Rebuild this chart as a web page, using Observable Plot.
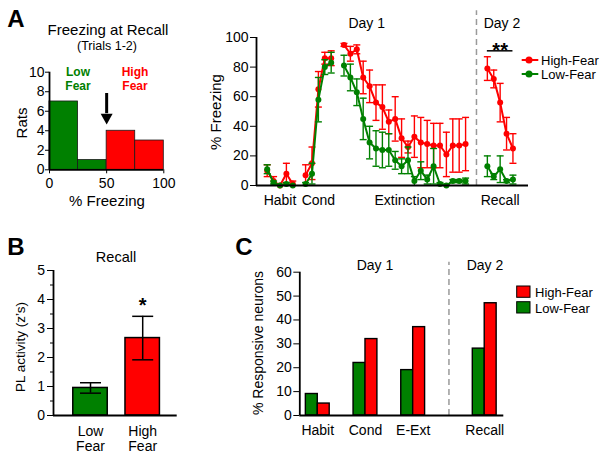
<!DOCTYPE html>
<html><head><meta charset="utf-8">
<script src="https://cdn.jsdelivr.net/npm/d3@7"></script>
<script src="https://cdn.jsdelivr.net/npm/@observablehq/plot@0.6"></script>
<style>
body{margin:0;background:#fff;}
#fig{position:relative;width:603px;height:459px;font-family:"Liberation Sans",Arial,sans-serif;color:#000;overflow:hidden;background:#fff}
#fig > svg{position:absolute}
</style></head><body><div id="fig"></div><script>
// ---------------- DATA ----------------
// Panel A: histogram of freezing at recall (trials 1-2)
const histBinEdges = [0, 25, 50, 75, 100];
const histCounts = [7, 1, 4, 3];
const fearCutoff = 50;

// Panel A: freezing time course (% freezing, mean and SEM)
const groups = ["High-Fear", "Low-Fear"];
const sessionNames = ["Habit", "Cond", "Extinction", "Recall"];
const sessionDays = [1, 1, 1, 2];
const habitHighMean = [10, 3, 0, 8, 1];
const habitHighSem = [4, 3, 0, 7, 2];
const habitLowMean = [11, 2, 0, 1, 0];
const habitLowSem = [3, 1, 0, 1, 0];
const condHighMean = [7, 15, 65, 86, 86];
const condHighSem = [7, 11, 12, 4, 5];
const condLowMean = [1, 8, 58, 80, 83];
const condLowSem = [1, 7, 15, 5, 7];
const extHighMean = [95, 89, 92, 73, 67, 56, 53, 43, 45, 32, 26, 33, 29, 28, 27, 27, 21, 27, 27, 28];
const extHighSem = [1, 5, 3, 11, 11, 12, 15, 8, 15, 13, 4, 14, 17, 16, 15, 15, 15, 18, 18, 18];
const extLowMean = [81, 73, 63, 45, 29, 25, 24, 24, 17, 13, 17, 3, 10, 4, 13, 1, 0, 3, 3, 3];
const extLowSem = [7, 9, 9, 14, 11, 12, 12, 11, 6, 5, 9, 3, 6, 3, 12, 1, 1, 1, 1, 2];
const recallHighMean = [79, 72, 56, 35, 25];
const recallHighSem = [8, 6, 13, 11, 10];
const recallLowMean = [13, 6, 11, 3, 4];
const recallLowSem = [7, 2, 9, 1, 3];
const recallSignificance = "**";

// Panel B: PL activity at recall (z-scores)
const plGroups = ["Low Fear", "High Fear"];
const plColorGroup = ["Low-Fear", "High-Fear"];
const plMean = [0.95, 2.67];
const plSem = [0.18, 0.75];
const plSignificance = ["", "*"];

// Panel C: % responsive neurons
const phaseNames = ["Habit", "Cond", "E-Ext", "Recall"];
const phaseDays = [1, 1, 1, 2];
const respHigh = [5, 32, 37, 47];
const respLow = [9, 22, 19, 28];

// ---------------- STYLE ----------------
const RED = "#ff0000", GREEN = "#008000";
const FONT = '"Liberation Sans", Arial, sans-serif';
const FS = 14;
const fig = document.getElementById("fig");
const baseStyle = {fontFamily: FONT, fontSize: "14px", color: "#000", background: "transparent", overflow: "visible"};
const colorScale = {domain: groups, range: [RED, GREEN]};
const capSymbol = {draw(ctx, size) { const r = Math.sqrt(size / Math.PI); ctx.moveTo(-r, 0); ctx.lineTo(r, 0); }};
const downTriangle = {draw(ctx, size) { const r = Math.sqrt(size / Math.PI); ctx.moveTo(-r, -0.5 * r); ctx.lineTo(r, -0.5 * r); ctx.lineTo(0, 1.3 * r); ctx.closePath(); }};
const intFmt = d3.format("d");

function place(svg, left, top) { svg.style.left = left + "px"; svg.style.top = top + "px"; fig.appendChild(svg); }
function addText(txt, cx, cy, o = {}) {
  const d = document.createElement("div");
  d.textContent = txt;
  d.style.cssText = `position:absolute;left:${cx}px;top:${cy}px;font-size:${o.size || 14}px;font-weight:${o.bold ? "bold" : "normal"};color:${o.color || "#000"};line-height:1;white-space:pre;text-align:center;`;
  d.style.transform = `translate(${o.start ? "0" : "-50%"},-50%)` + (o.rotate ? ` rotate(${o.rotate}deg)` : "");
  fig.appendChild(d);
}

// ---------------- PANEL A: histogram ----------------
const histRows = histCounts.map((c, i) => ({x1: histBinEdges[i], x2: histBinEdges[i + 1], count: c,
  group: histBinEdges[i] < fearCutoff ? "Low-Fear" : "High-Fear"}));
const hist = Plot.plot({
  width: 200, height: 215, marginLeft: 49, marginRight: 36.7, marginTop: 71.7, marginBottom: 45.7,
  style: baseStyle,
  x: {domain: [0, 100], label: null},
  y: {domain: [0, 10], label: null},
  color: colorScale,
  marks: [
    Plot.rect(histRows, {x1: "x1", x2: "x2", y1: 0, y2: "count", fill: "group", stroke: "#1a1a1a", strokeWidth: 0.8}),
    Plot.ruleX([fearCutoff], {y1: 5.75, y2: 7.82, stroke: "#000", strokeWidth: 3}),
    Plot.dot([fearCutoff], {x: d => d, y: 5.44, symbol: downTriangle, r: 6, fill: "#000", stroke: "none"}),
    Plot.axisY({ticks: [0, 2, 4, 6, 8, 10], tickSize: 4, tickPadding: 1, tickFormat: intFmt, fontSize: FS, label: null}),
    Plot.axisX({ticks: [0, 50, 100], tickSize: 4, tickPadding: 4, tickFormat: intFmt, fontSize: FS, label: null}),
    Plot.ruleX([0], {stroke: "#000", strokeWidth: 1.8}),
    Plot.ruleY([0], {stroke: "#000", strokeWidth: 1.8})
  ]
});
place(hist, 0, 0);

// ---------------- PANEL A: time course ----------------
const sessionData = {
  "High-Fear": [[habitHighMean, habitHighSem], [condHighMean, condHighSem], [extHighMean, extHighSem], [recallHighMean, recallHighSem]],
  "Low-Fear": [[habitLowMean, habitLowSem], [condLowMean, condLowSem], [extLowMean, extLowSem], [recallLowMean, recallLowSem]]
};
const gapSameDay = 2, gapNewDay = 3.4;
const sessionStart = [];
{
  let cursor = 0;
  sessionNames.forEach((s, i) => {
    if (i > 0) cursor += sessionData["High-Fear"][i - 1][0].length - 1 + (sessionDays[i] !== sessionDays[i - 1] ? gapNewDay : gapSameDay);
    sessionStart.push(cursor);
  });
}
const sessionEnd = sessionNames.map((s, i) => sessionStart[i] + sessionData["High-Fear"][i][0].length - 1);
const sessionCenter = sessionNames.map((s, i) => (sessionStart[i] + sessionEnd[i]) / 2);
const dayBoundary = (sessionEnd[2] + sessionStart[3]) / 2;
const tcRows = [];
groups.forEach(g => sessionNames.forEach((s, i) => {
  const [m, e] = sessionData[g][i];
  m.forEach((v, j) => tcRows.push({group: g, session: s, pos: sessionStart[i] + j, mean: v, sem: e[j]}));
}));
const sigY = 91;
const tcMarks = [
  Plot.ruleX([dayBoundary], {y1: 0, y2: 118, stroke: "#9a9a9a", strokeWidth: 1.5, strokeDasharray: "6,4"})
];
groups.forEach(g => {
  const rows = tcRows.filter(d => d.group === g);
  tcMarks.push(
    Plot.ruleX(rows, {x: "pos", y1: d => Math.max(0, d.mean - d.sem), y2: d => d.mean + d.sem, stroke: "group", strokeWidth: 1.4}),
    Plot.dot(rows.filter(d => d.sem > 0), {x: "pos", y: d => d.mean + d.sem, symbol: capSymbol, r: 3.5, fill: "none", stroke: "group", strokeWidth: 1.4}),
    Plot.dot(rows.filter(d => d.sem > 0 && d.mean - d.sem > 0), {x: "pos", y: d => d.mean - d.sem, symbol: capSymbol, r: 3.5, fill: "none", stroke: "group", strokeWidth: 1.4}),
    Plot.line(rows, {x: "pos", y: "mean", z: "session", stroke: "group", strokeWidth: 2}),
    Plot.dot(rows, {x: "pos", y: "mean", r: 3, fill: "group", stroke: "none"})
  );
});
tcMarks.push(
  Plot.ruleY([sigY], {x1: sessionStart[3], x2: sessionEnd[3], stroke: "#000", strokeWidth: 1.5}),
  Plot.text([recallSignificance], {x: sessionCenter[3], y: sigY, text: d => d, lineAnchor: "middle", dy: 0, fontSize: 20, fontWeight: "bold"}),
  Plot.axisY({ticks: [0, 20, 40, 60, 80, 100], tickSize: 6, tickPadding: 2, tickFormat: intFmt, fontSize: FS, label: null}),
  Plot.axisX({ticks: sessionCenter, tickSize: 0, tickPadding: 10, tickFormat: (d, i) => sessionNames[i], fontSize: FS, label: null}),
  Plot.ruleX([-1.67], {stroke: "#000", strokeWidth: 1.8}),
  Plot.ruleY([0], {stroke: "#000", strokeWidth: 1.8})
);
const tc = Plot.plot({
  width: 403, height: 215, marginLeft: 56, marginRight: 75, marginTop: 37, marginBottom: 30,
  style: baseStyle,
  x: {domain: [-1.67, 40.83], label: null},
  y: {domain: [0, 100], label: null},
  color: colorScale,
  marks: tcMarks
});
place(tc, 200, 0);

// ---------------- PANEL B ----------------
const plRows = plGroups.map((g, i) => ({name: g, group: plColorGroup[i], pos: i, mean: plMean[i], sem: plSem[i], sig: plSignificance[i]}));
const barHalfB = 0.33;
const pb = Plot.plot({
  width: 200, height: 239, marginLeft: 53, marginRight: 23.3, marginTop: 50, marginBottom: 44,
  style: baseStyle,
  x: {domain: [-0.709, 1.661], label: null},
  y: {domain: [0, 5], label: null},
  color: colorScale,
  marks: [
    Plot.rect(plRows, {x1: d => d.pos - barHalfB, x2: d => d.pos + barHalfB, y1: 0, y2: "mean", fill: "group", stroke: "#000", strokeWidth: 1.5}),
    Plot.ruleX(plRows, {x: "pos", y1: d => d.mean - d.sem, y2: d => d.mean + d.sem, stroke: "#000", strokeWidth: 1.5}),
    Plot.dot(plRows, {x: "pos", y: d => d.mean + d.sem, symbol: capSymbol, r: 10.5, fill: "none", stroke: "#000", strokeWidth: 1.5}),
    Plot.dot(plRows, {x: "pos", y: d => d.mean - d.sem, symbol: capSymbol, r: 10.5, fill: "none", stroke: "#000", strokeWidth: 1.5}),
    Plot.text(plRows.filter(d => d.sig), {x: "pos", y: d => d.mean + d.sem, text: "sig", lineAnchor: "middle", dy: -10.4, fontSize: 20, fontWeight: "bold"}),
    Plot.axisY({ticks: [0, 1, 2, 3, 4, 5], tickSize: 6, tickPadding: 2.5, tickFormat: intFmt, fontSize: FS, label: null}),
    Plot.axisY({ticks: [0.5, 1.5, 2.5, 3.5, 4.5], tickSize: 3, tickFormat: () => "", label: null}),
    Plot.axisX({ticks: plRows.map(d => d.pos), tickSize: 0, tickPadding: 10, lineHeight: 1.07, tickFormat: (d, i) => plGroups[i].replace(" ", "\n"), fontSize: FS, label: null}),
    Plot.ruleX([-0.709], {stroke: "#000", strokeWidth: 1.8}),
    Plot.ruleY([0], {stroke: "#000", strokeWidth: 1.8})
  ]
});
place(pb, 0, 220);

// ---------------- PANEL C ----------------
const phasePos = phaseNames.map((p, i) => i + (phaseDays[i] === 2 ? 0.5 : 0));
const barW = 0.25;
const respRows = [];
phaseNames.forEach((p, i) => {
  respRows.push({phase: p, group: "Low-Fear", x1: phasePos[i] - barW, x2: phasePos[i], value: respLow[i]});
  respRows.push({phase: p, group: "High-Fear", x1: phasePos[i], x2: phasePos[i] + barW, value: respHigh[i]});
});
const cBoundary = (phasePos[2] + phasePos[3]) / 2;
const pc = Plot.plot({
  width: 403, height: 239, marginLeft: 99.3, marginRight: 99.7, marginTop: 51.7, marginBottom: 44,
  style: baseStyle,
  x: {domain: [-0.377, 3.9], label: null},
  y: {domain: [0, 60], label: null},
  color: colorScale,
  marks: [
    Plot.ruleX([cBoundary], {y1: 0, y2: 64.2, stroke: "#9a9a9a", strokeWidth: 1.5, strokeDasharray: "6,4"}),
    Plot.rect(respRows, {x1: "x1", x2: "x2", y1: 0, y2: "value", fill: "group", stroke: "#000", strokeWidth: 1.4}),
    Plot.axisY({ticks: [0, 10, 20, 30, 40, 50, 60], tickSize: 6, tickPadding: 2, tickFormat: intFmt, fontSize: FS, label: null}),
    Plot.axisX({ticks: phasePos, tickSize: 0, tickPadding: 10, tickFormat: (d, i) => phaseNames[i], fontSize: FS, label: null}),
    Plot.ruleX([-0.377], {stroke: "#000", strokeWidth: 1.8}),
    Plot.ruleY([0], {stroke: "#000", strokeWidth: 1.8})
  ]
});
place(pc, 200, 220);

// ---------------- LEGENDS ----------------
{
  const svg = d3.create("svg").attr("width", 22).attr("height", 30).style("left", "520px").style("top", "52px");
  [[RED, 8], [GREEN, 22]].forEach(([c, y]) => {
    svg.append("line").attr("x1", 1.7).attr("x2", 18.3).attr("y1", y).attr("y2", y).attr("stroke", c).attr("stroke-width", 2);
    svg.append("circle").attr("cx", 9).attr("cy", y).attr("r", 3.5).attr("fill", c);
  });
  fig.appendChild(svg.node());
  const svg2 = d3.create("svg").attr("width", 16).attr("height", 30).style("left", "515px").style("top", "285px");
  [[RED, 1], [GREEN, 16.7]].forEach(([c, y]) => {
    svg2.append("rect").attr("x", 1.7).attr("y", y).attr("width", 13.3).attr("height", 11.3).attr("fill", c).attr("stroke", "#000").attr("stroke-width", 1);
  });
  fig.appendChild(svg2.node());
}
addText(groups[0], 541, 60, {size: 13, start: true});
addText(groups[1], 541, 74, {size: 13, start: true});
addText(groups[0], 535, 291.7, {size: 13, start: true});
addText(groups[1], 535, 307.7, {size: 13, start: true});

// ---------------- TITLES & LABELS ----------------
addText("A", 16, 18.5, {size: 24, bold: true});
addText("B", 16, 246.5, {size: 24, bold: true});
addText("C", 244, 246.5, {size: 24, bold: true});
addText("Freezing at Recall", 108, 28.5, {size: 15});
addText("(Trials 1-2)", 107, 46, {size: 12.5});
addText("Low", 78, 72, {size: 12, bold: true, color: GREEN});
addText("Fear", 78, 86, {size: 12, bold: true, color: GREEN});
addText("High", 135, 72, {size: 12, bold: true, color: RED});
addText("Fear", 135, 86, {size: 12, bold: true, color: RED});
addText("Rats", 21, 123, {size: 15, rotate: -90});
addText("% Freezing", 107, 200, {size: 15});
addText("Day 1", 366.7, 23, {size: 14});
addText("Day 2", 502, 23, {size: 14});
addText("% Freezing", 215, 112, {size: 15, rotate: -90});
addText("Recall", 116, 256.7, {size: 14.5});
addText("PL activity (z\u2019s)", 21, 346.5, {size: 13.5, rotate: -90});
addText("Day 1", 375, 265, {size: 14});
addText("Day 2", 485, 265, {size: 14});
addText("% Responsive neurons", 258.3, 343.3, {size: 14, rotate: -90});
</script></body></html>
